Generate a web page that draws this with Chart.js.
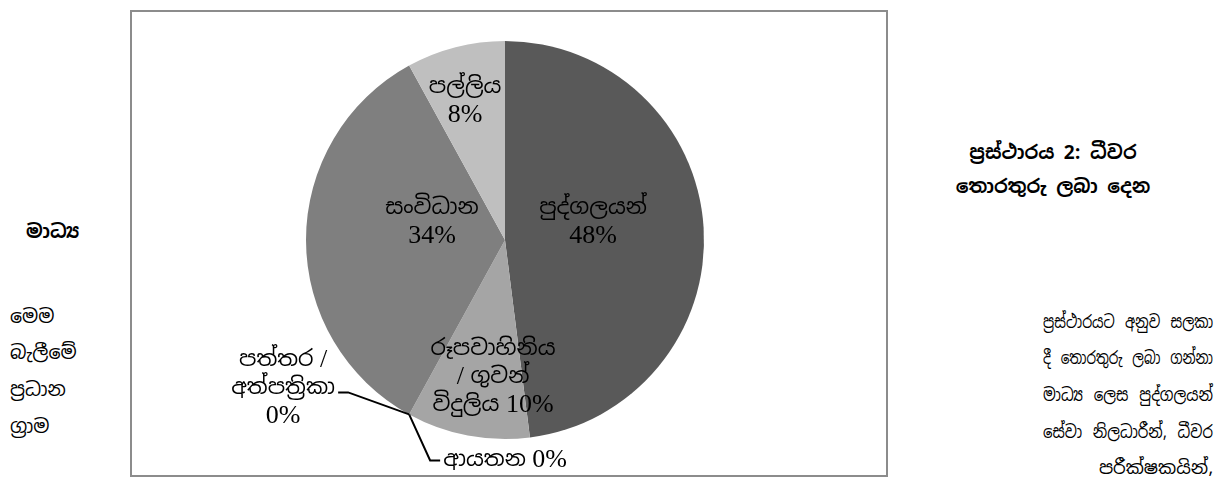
<!DOCTYPE html>
<html>
<head>
<meta charset="utf-8">
<script src="https://cdn.jsdelivr.net/npm/chart.js@4"></script>
<style>
  body { margin: 0; width: 1223px; height: 493px; background: #fff; position: relative; overflow: hidden;
         font-family: "Noto Sans Sinhala", "Liberation Serif", serif; color: #000; }
  #box { position: absolute; left: 130px; top: 10px; width: 754px; height: 463px; border: 2px solid #8c8c8c; }
  .t { position: absolute; font-size: 19px; line-height: 24px; white-space: nowrap; }
  .b { font-weight: bold; }
  .j { left: 1043px; font-size: 18px; transform-origin: 0 50%; word-spacing: 4px; }
</style>
</head>
<body>
<div id="box"><canvas id="pieChart" width="754" height="463"></canvas></div>

<div class="t b" style="left:26px;top:220px;">මාධ්‍ය</div>
<div class="t" style="left:10px;top:305px;">මෙම</div>
<div class="t" style="left:10px;top:341px;">බැලීමේ</div>
<div class="t" style="left:10px;top:378px;">ප්‍රධාන</div>
<div class="t" style="left:10px;top:415px;">ග්‍රාම</div>

<div class="t b" style="left:953px;width:200px;text-align:center;top:141px;">ප්‍රස්ථාරය 2: ධීවර</div>
<div class="t b" style="left:953px;width:200px;text-align:center;top:175px;">තොරතුරු ලබා දෙන</div>
<div class="t j" style="top:310px;">ප්‍රස්ථාරයට අනුව සලකා</div>
<div class="t j" style="top:346px;">දී තොරතුරු ලබා ගන්නා</div>
<div class="t j" style="top:383px;">මාධ්‍ය ලෙස පුද්ගලයන්</div>
<div class="t j" style="top:420px;">සේවා නිලධාරීන්, ධීවර</div>
<div class="t" style="left:1013px;width:200px;text-align:right;top:456px;font-size:18px;">පරීක්ෂකයින්,</div>

<script>
const labels = ["පුද්ගලයන්", "රූපවාහිනිය / ගුවන් විදුලිය", "ආයතන", "පත්තර / අත්පත්‍රිකා", "සංවිධාන", "පල්ලිය"];
const values = [48, 10, 0, 0, 34, 8];
const sliceColors = ["#595959", "#a5a5a5", "#959595", "#8a8a8a", "#7f7f7f", "#bfbfbf"];

// how each label is set out: lines, and where it sits
const labelLayout = [
    { lines: ["පුද්ගලයන්", "{v}%"], rf: 0.452, da: -8 },
    { lines: ["රූපවාහිනිය", "/ ගුවන්", "විදුලිය {v}%"], rf: 0.69, da: -5.8 },
    { lines: ["ආයතන {v}%"], leader: [[21, 46], [31, 46]], align: "left", tx: 34, ty: 46 },
    { lines: ["පත්තර /", "අත්පත්‍රිකා", "{v}%"], leader: [[-61, -22], [-71, -22]], align: "center", tx: -126, ty: -26 },
    { lines: ["සංවිධාන", "{v}%"], rf: 0.378, da: 13.9 },
    { lines: ["පල්ලිය", "{v}%"], rf: 0.727, da: -1.6 }
];

// squeeze the justified text lines on the right into their column
document.querySelectorAll(".j").forEach(el => {
    const w = el.getBoundingClientRect().width;
    el.style.transform = "scaleX(" + Math.min(1, 170 / w) + ")";
});

const sinFont = '22px "Noto Sans Sinhala", serif';
const latFont = '26px "Liberation Serif", serif';

function drawMixed(ctx, s, x, y, align) {
    const runs = s.split(/([\u0D80-\u0DFF\u200D]+)/).filter(r => r.length);
    const fonts = runs.map(r => /[\u0D80-\u0DFF]/.test(r) ? sinFont : latFont);
    let total = 0;
    const widths = runs.map((r, k) => { ctx.font = fonts[k]; const w = ctx.measureText(r).width; total += w; return w; });
    let cx = align === "left" ? x : x - total / 2;
    ctx.textAlign = "left";
    runs.forEach((r, k) => { ctx.font = fonts[k]; ctx.fillText(r, cx, y); cx += widths[k]; });
}

const sliceLabels = {
    id: "sliceLabels",
    afterDatasetsDraw(chart) {
        const ctx = chart.ctx;
        const arcs = chart.getDatasetMeta(0).data;
        ctx.save();
        ctx.fillStyle = "#000";
        ctx.strokeStyle = "#000";
        ctx.lineWidth = 2;
        ctx.textBaseline = "middle";
        const lh = 28;
        arcs.forEach((arc, i) => {
            const lay = labelLayout[i];
            const p = arc.getProps(["x", "y", "startAngle", "endAngle", "outerRadius"], true);
            const lines = lay.lines.map(s => s.replace("{v}", values[i]));
            let cx, cy, align = "center";
            if (lay.leader) {
                const a = p.startAngle;
                const ex = p.x + Math.cos(a) * p.outerRadius;
                const ey = p.y + Math.sin(a) * p.outerRadius;
                ctx.beginPath();
                ctx.moveTo(ex, ey);
                lay.leader.forEach(pt => ctx.lineTo(ex + pt[0], ey + pt[1]));
                ctx.stroke();
                cx = ex + lay.tx;
                cy = ey + lay.ty;
                align = lay.align;
            } else {
                const mid = (p.startAngle + p.endAngle) / 2 + lay.da * Math.PI / 180;
                cx = p.x + Math.cos(mid) * p.outerRadius * lay.rf;
                cy = p.y + Math.sin(mid) * p.outerRadius * lay.rf;
            }
            const top = cy - (lines.length - 1) * lh / 2;
            lines.forEach((s, k) => drawMixed(ctx, s, cx, top + k * lh, align));
        });
        ctx.restore();
    }
};

new Chart(document.getElementById("pieChart"), {
    type: "pie",
    data: {
        labels: labels,
        datasets: [{
            data: values,
            backgroundColor: sliceColors,
            borderWidth: 0
        }]
    },
    options: {
        responsive: false,
        animation: false,
        layout: { padding: { top: 29, bottom: 36, left: 174, right: 182 } },
        plugins: {
            legend: { display: false },
            tooltip: { enabled: false }
        }
    },
    plugins: [sliceLabels]
});
</script>
</body>
</html>
